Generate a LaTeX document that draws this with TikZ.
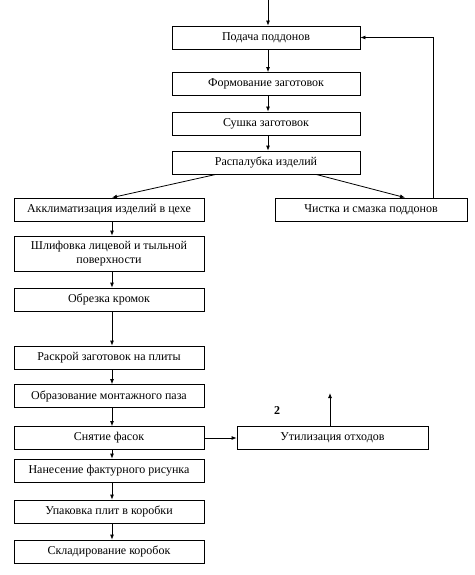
\documentclass[tikz,border=0pt]{standalone}
\usepackage{fontspec}
\setmainfont{Liberation Serif}
\usetikzlibrary{arrows.meta}
\begin{document}
\begin{tikzpicture}[x=1pt,y=-1pt,
  box/.style={draw,line width=0.8pt,inner sep=0pt,align=center,minimum height=23pt,
    font=\fontsize{12}{13.5}\selectfont},
  topbox/.style={box,minimum width=188pt},
  leftbox/.style={box,minimum width=190pt},
  arr/.style={-{Latex[length=5pt,width=4pt]},line width=0.8pt}]
\useasboundingbox (0,0) rectangle (474,575);
% top column
\node[topbox] (podacha) at (266,37.5) {Подача поддонов};
\node[topbox] (formov) at (266,84) {Формование заготовок};
\node[topbox] (sushka) at (266,123.5) {Сушка заготовок};
\node[topbox] (raspal) at (266,162.5) {Распалубка изделий};
% left column
\node[leftbox] (akklim) at (109,209.5) {Акклиматизация изделий в цехе};
\node[box,minimum width=192pt] (chistka) at (371,209.5) {Чистка и смазка поддонов};
\node[leftbox,minimum height=35pt] (shlif) at (109,253.5) {Шлифовка лицевой и тыльной\\поверхности};
\node[leftbox] (obrez) at (109,299.5) {Обрезка кромок};
\node[leftbox] (raskroy) at (109,357.5) {Раскрой заготовок на плиты};
\node[leftbox] (obraz) at (109,396) {Образование монтажного паза};
\node[leftbox] (snyat) at (109,438) {Снятие фасок};
\node[box,minimum width=191pt] (util) at (332.5,438) {Утилизация отходов};
\node[leftbox] (nanes) at (109,470.5) {Нанесение фактурного рисунка};
\node[leftbox] (upak) at (109,511.5) {Упаковка плит в коробки};
\node[leftbox] (sklad) at (109,551.5) {Складирование коробок};
\node[font=\fontsize{12}{13.5}\selectfont\bfseries] (two) at (277,411) {2};
% connectors
\coordinate (start) at (268,0);
\coordinate (upend) at (330,393);
\draw[arr] (start) -- (podacha.north -| start);
\draw[arr] ([xshift=2]podacha.south) -- ([xshift=2]formov.north);
\draw[arr] ([xshift=2]formov.south) -- ([xshift=2]sushka.north);
\draw[arr] ([xshift=2]sushka.south) -- ([xshift=2]raspal.north);
\draw[arr] ([xshift=-50]raspal.south) -- ([xshift=3]akklim.north);
\draw[arr] ([xshift=50]raspal.south) -- ([xshift=34]chistka.north);
\draw[arr] ([xshift=62]chistka.north) |- (podacha.east);
\draw[arr] ([xshift=3]akklim.south) -- ([xshift=3]shlif.north);
\draw[arr] ([xshift=3]shlif.south) -- ([xshift=3]obrez.north);
\draw[arr] ([xshift=3]obrez.south) -- ([xshift=3]raskroy.north);
\draw[arr] ([xshift=3]raskroy.south) -- ([xshift=3]obraz.north);
\draw[arr] ([xshift=3]obraz.south) -- ([xshift=3]snyat.north);
\draw[arr] ([xshift=3]snyat.south) -- ([xshift=3]nanes.north);
\draw[arr] ([xshift=3]nanes.south) -- ([xshift=3]upak.north);
\draw[arr] ([xshift=3]upak.south) -- ([xshift=3]sklad.north);
\draw[arr] (snyat.east) -- (util.west);
\draw[arr] (util.north -| upend) -- (upend);
\end{tikzpicture}
\end{document}
